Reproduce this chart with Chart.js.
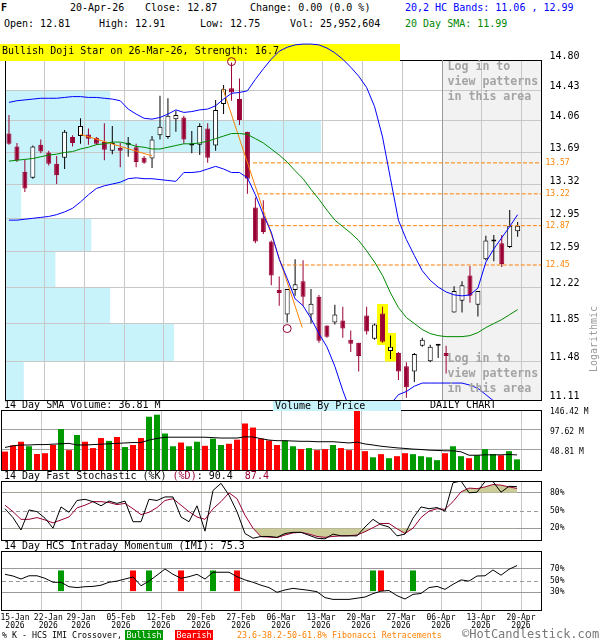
<!DOCTYPE html>
<html>
<head>
<meta charset="utf-8">
<script src="https://cdn.jsdelivr.net/npm/chart.js@4.4.1/dist/chart.umd.min.js"></script>
<style>
  html, body { margin: 0; padding: 0; background: #fff; }
  #wrap { position: relative; width: 600px; height: 640px; overflow: hidden;
          font-family: "DejaVu Sans Mono", monospace; font-size: 10px; color: #000; }
  canvas { position: absolute; left: 0; }
  .t { position: absolute; white-space: pre; line-height: 12px; }
  .s { font-size: 8.3px; line-height: 11px; }
</style>
</head>
<body>
<div id="wrap">
  <canvas id="main" width="600" height="365" style="top:40px"></canvas>
  <canvas id="vol" width="600" height="75" style="top:400px"></canvas>
  <canvas id="sto" width="600" height="75" style="top:470px"></canvas>
  <canvas id="imi" width="600" height="95" style="top:540px"></canvas>

  <div class="t" style="left:1px;top:2px;font-weight:bold">F</div>
  <div class="t" style="left:70px;top:2px">20-Apr-26</div>
  <div class="t" style="left:145px;top:2px">Close: 12.87</div>
  <div class="t" style="left:250px;top:2px">Change: 0.00 (0.0 %)</div>
  <div class="t" style="left:405px;top:2px;color:#0000ff">20,2 HC Bands: 11.06 , 12.99</div>
  <div class="t" style="left:4px;top:18px">Open: 12.81</div>
  <div class="t" style="left:99px;top:18px">High: 12.91</div>
  <div class="t" style="left:200px;top:18px">Low: 12.75</div>
  <div class="t" style="left:290px;top:18px">Vol: 25,952,604</div>
  <div class="t" style="left:405px;top:18px;color:#008800">20 Day SMA: 11.99</div>

  <div class="t" style="left:4px;top:399px">14 Day SMA Volume: 36.81 M</div>
  <div class="t" style="left:273px;top:401px;width:126px;height:10px;line-height:10px;padding-left:2px;background:#c9f3fb">Volume By Price</div>
  <div class="t" style="left:430px;top:399px">DAILY CHART</div>
  <div class="t" style="left:4px;top:470px">14 Day Fast Stochastic (%K) <span style="color:#990033">(%D)</span>: 90.4  <span style="color:#990033">87.4</span></div>
  <div class="t" style="left:4px;top:540px">14 Day HCS Intraday Momentum (IMI): 75.3</div>

  <div class="t s" style="left:2px;top:630px">% K - HCS IMI Crossover,</div>
  <div class="t s" style="left:125px;top:630px;width:38px;height:10px;line-height:10px;background:#009900;color:#fff;text-align:center">Bullish</div>
  <div class="t s" style="left:175px;top:630px;width:38px;height:10px;line-height:10px;background:#ff0000;color:#fff;text-align:center">Bearish</div>
  <div class="t s" style="left:237px;top:630px;color:#ff8000">23.6-38.2-50-61.8% Fibonacci Retracements</div>
  <div class="t" style="left:462px;top:628px;font-size:12px;line-height:13px;color:#777">©HotCandlestick.com</div>
</div>

<script>
// trading days, 15-Jan-2026 .. 20-Apr-2026
const dates = ['15-Jan','16-Jan','20-Jan','21-Jan','22-Jan','23-Jan','26-Jan','27-Jan','28-Jan','29-Jan','30-Jan',
  '02-Feb','03-Feb','04-Feb','05-Feb','06-Feb','09-Feb','10-Feb','11-Feb','12-Feb','13-Feb',
  '17-Feb','18-Feb','19-Feb','20-Feb','23-Feb','24-Feb','25-Feb','26-Feb','27-Feb',
  '02-Mar','03-Mar','04-Mar','05-Mar','06-Mar','09-Mar','10-Mar','11-Mar','12-Mar','13-Mar',
  '16-Mar','17-Mar','18-Mar','19-Mar','20-Mar','23-Mar','24-Mar','25-Mar','26-Mar','27-Mar',
  '30-Mar','31-Mar','01-Apr','02-Apr','06-Apr','07-Apr','08-Apr','09-Apr','10-Apr',
  '13-Apr','14-Apr','15-Apr','16-Apr','17-Apr','20-Apr'];

const opens = [13.91,13.76,13.47,13.40,13.78,13.69,13.56,13.63,13.87,13.88,
  13.90,13.86,13.81,13.71,13.74,13.78,13.75,13.63,13.62,13.89,
  13.87,14.08,14.10,13.77,13.78,13.97,13.77,14.26,14.45,14.32,
  13.93,13.07,12.95,12.70,12.19,11.94,12.19,12.28,11.94,12.12,
  11.83,11.86,11.88,11.69,11.66,11.93,11.70,11.95,11.58,11.56,
  11.43,11.38,11.63,11.48,11.63,11.56,11.96,12.08,12.34,12.04,
  12.51,12.70,12.68,12.64,12.81];
const highs = [14.13,13.80,13.61,13.77,13.84,13.71,13.65,13.95,13.89,14.09,
  13.97,13.87,14.03,14.00,13.80,13.87,13.79,13.65,13.88,14.36,
  14.33,14.18,14.12,13.94,14.03,14.03,14.31,14.49,14.77,14.57,
  13.93,13.18,13.15,12.71,12.33,12.20,12.51,12.50,12.20,12.14,
  11.83,12.04,12.02,11.78,11.66,12.02,11.85,12.02,11.73,11.57,
  11.47,11.56,11.71,11.64,11.64,11.63,12.23,12.28,12.44,12.18,
  12.76,12.77,12.77,13.04,12.91];
const lows = [13.78,13.58,13.24,13.39,13.68,13.54,13.33,13.50,13.76,13.79,
  13.78,13.78,13.60,13.67,13.52,13.64,13.52,13.56,13.51,13.84,
  13.85,13.93,13.79,13.68,13.66,13.57,13.71,14.14,14.30,14.01,
  13.22,12.68,12.78,12.24,12.03,11.86,12.13,12.03,11.85,11.66,
  11.71,11.84,11.71,11.57,11.38,11.74,11.69,11.66,11.50,11.30,
  11.13,11.28,11.62,11.47,11.51,11.36,11.96,11.96,12.06,11.92,
  12.50,12.49,12.43,12.63,12.75];
const closes = [13.79,13.60,13.28,13.76,13.70,13.56,13.43,13.93,13.80,14.00,
  13.85,13.79,13.72,13.80,13.71,13.80,13.58,13.57,13.84,13.99,
  14.12,14.13,13.84,13.78,14.00,13.63,14.19,14.44,14.40,14.07,
  13.39,12.70,12.80,12.34,12.16,12.20,12.25,12.12,12.05,11.68,
  11.72,11.94,11.80,11.65,11.53,11.77,11.84,11.67,11.62,11.38,
  11.23,11.55,11.69,11.62,11.635,11.53,12.18,12.24,12.13,12.18,
  12.71,12.71,12.46,12.87,12.87];

// 20,2 HC bands and 20 day SMA
const hcUpper = [14.28,14.30,14.31,14.32,14.33,14.33,14.33,14.34,14.35,14.35,
  14.34,14.34,14.33,14.32,14.30,14.20,14.14,14.09,14.08,14.10,
  14.14,14.19,14.16,14.17,14.19,14.20,14.24,14.32,14.39,14.40,
  14.42,14.56,14.69,14.81,14.91,14.96,14.99,15.00,15.00,14.99,
  14.95,14.89,14.81,14.71,14.60,14.46,14.23,13.87,13.39,12.93,
  12.72,12.55,12.39,12.29,12.22,12.17,12.14,12.13,12.14,12.21,
  12.48,12.62,12.74,12.86,12.99];
const hcLower = [12.93,12.93,12.94,12.95,12.96,12.97,12.99,13.02,13.06,13.13,
  13.21,13.28,13.31,13.33,13.35,13.39,13.40,13.39,13.39,13.38,
  13.37,13.36,13.46,13.46,13.47,13.50,13.53,13.50,13.46,13.46,
  13.40,13.21,12.99,12.80,12.51,12.31,12.10,12.03,11.90,11.75,
  11.62,11.43,11.20,11.00,10.90,10.85,10.90,10.97,11.07,11.16,
  11.19,11.24,11.27,11.27,11.27,11.27,11.27,11.27,11.25,11.22,
  11.16,11.10,11.08,11.07,11.06];
const sma20 = [13.59,13.60,13.61,13.62,13.64,13.66,13.67,13.69,13.70,13.73,
  13.75,13.78,13.79,13.81,13.81,13.79,13.76,13.75,13.73,13.73,
  13.75,13.77,13.79,13.79,13.80,13.82,13.85,13.88,13.91,13.91,
  13.90,13.85,13.80,13.73,13.66,13.58,13.48,13.39,13.27,13.16,
  13.04,12.93,12.86,12.79,12.71,12.60,12.48,12.34,12.16,12.01,
  11.91,11.85,11.79,11.75,11.73,11.72,11.72,11.72,11.73,11.76,
  11.81,11.85,11.89,11.94,11.99];

// volume, millions
const volumes = [45,60,69,58,39,41,61,100,48.5,85.5,
  69,53.5,78,71,80.6,56,61,78,130,135,
  89,58,67,58,69,59,76.5,61,64,74,
  113.5,103.6,76.5,72,61,71.6,58,51,53.5,48.5,
  51,61,53.5,48.5,150,46,31,38.7,28.8,33.7,
  41,38.7,33.7,31,24,41,58,33.7,28.8,36,
  51,38.7,36,46,25.95];
const volSma = [55,59,61,61,62,62,63,64,65,61,
  61,62,63,64,65,66,67,67,73,77,
  80,80,80,80,80,80,79,78,78,78,
  81,80.6,76.5,73,71.5,71.5,70.7,70,70,69,
  69,69,67.5,66,68,63.5,61,58,56,54,
  52.6,51,50,48.5,47.7,46.9,46.9,44.4,36,36,
  37,37,37,37.8,36.81];

// 14 day fast stochastic
const stochK = [53,38,17,51,48,37,20,56,47,67,
  69,65,58,66,62,66,31,31,69,67,
  73,73,39,31,58,15,84,96,76,48,
  11,3,6,6,4.5,11,13,13,8,3,
  2,10,7,7,7,22,35,26,22,7,
  10,37,56,53,55,49,97,100,80,81,
  99,99,81,91,90.4];
const stochD = [59,48,35,35,38,34,29,34,39,54.5,
  59,65,65,63.5,60,62,53,43,47,55,
  67,70,59,48,39,35,53,65,80,70,
  42,20,5.6,5,4,8.4,12,13,10,6,
  4.5,6,7,7.3,8.4,14,21,28,28,19,
  11,20,38,49,53,52,65,81.5,88,87,
  90,94,93,90,87.4];

// 14 day HCS intraday momentum
const imi = [60.5,57.6,52.5,58,58,53.7,47,47,39.5,38,
  39.5,40,42,47,49,52.5,56,41,49,59,
  69.5,60.5,53.7,56.5,60.5,52.5,64,64,64,56.5,
  51,47,42,38,30,34,36.7,35,33.3,31,
  21,18,18,18,20,22,27.7,32,33,24.3,
  18.6,26.5,28,38,40,35,43.5,51,49,57.6,
  58,67.8,59,69,75.3];
const bullishX = [7, 18, 26, 46, 51];
const bearishX = [16, 22, 29, 47];
const crossSpan = [32, 67];

// price axis, fibonacci, volume by price, markers
const priceTicks = [14.80,14.43,14.06,13.69,13.32,12.95,12.59,12.22,11.85,11.48,11.11];
const vbpShare = [0,19.6,58.9,22.4,3.0,16.1,9.4,19.6,31.5,3.5];
const fibLevels = [13.57, 13.22, 12.87, 12.45];
const fibStart = [30.7, 31.3, 32.7, 34.2];
const trendLines = [[[9, 13.90], [18, 13.65]], [[26.9, 14.45], [36.9, 11.81]]];
const swingMarks = [[28, 14.78], [35, 11.80]];
const patternBars = [47, 48];
const loginFrom = 54.5;

const volTicks = [48.81, 97.62, 146.42];
const stochTicks = [20, 50, 80];
const imiTicks = [30, 50, 70];
const gridPos = [4.5,9.5,14.5,19.5,24.5,29.5,34.5,39.5,44.5,49.5,54.5,59.5,64.5];
const tickLabels = ['15-Jan','22-Jan','29-Jan','05-Feb','12-Feb','20-Feb','27-Feb','06-Mar','13-Mar','20-Mar','27-Mar','06-Apr','13-Apr','20-Apr'];
const tickPos = [1.25,5.41,9.5,14.5,19.5,24.5,29.5,34.5,39.5,44.5,49.5,54.5,59.5,64.5];

const DARK_RED = '#990033';
const FONT = '"DejaVu Sans Mono", monospace';
Chart.defaults.font.family = FONT;
Chart.defaults.color = '#000';

const idx = dates.map((d, i) => i);
const isUp = closes.map((c, i) => c >= opens[i]);
const pts = arr => idx.map(i => ({ x: i, y: arr[i] }));

function xGrid() {
  return {
    type: 'linear', min: -0.5, max: 67, offset: false,
    grid: { color: '#c8c8c8', drawTicks: false, offset: false },
    border: { display: false },
    ticks: { display: false },
    afterBuildTicks: s => { s.ticks = gridPos.map(v => ({ value: v })); },
    afterFit: s => { s.height = 0; s.paddingLeft = 0; s.paddingRight = 0; }
  };
}

function yRight(ticks, opts) {
  return Object.assign({
    position: 'right',
    grid: { color: '#999999', drawTicks: false },
    border: { display: false },
    ticks: Object.assign({ autoSkip: false, padding: 9, font: { size: 8 } }, opts.ticks),
    afterBuildTicks: s => { s.ticks = ticks.map(v => ({ value: v })); },
    afterFit: s => { s.width = opts.width || 59; s.paddingTop = 0; s.paddingBottom = 0; }
  }, opts.extra);
}

function baseOptions(padding, scales) {
  return {
    responsive: false, animation: false, devicePixelRatio: 1, events: [],
    layout: { padding },
    plugins: { legend: { display: false }, tooltip: { enabled: false } },
    scales
  };
}

const framePlugin = {
  id: 'frame',
  beforeDatasetsDraw(chart) {
    const a = chart.chartArea, ctx = chart.ctx;
    const l = Math.floor(a.left) + 0.5, r = Math.floor(a.right) + 0.5;
    const t = Math.floor(a.top) + 0.5, b = Math.floor(a.bottom) + 0.5;
    ctx.save();
    ctx.strokeStyle = '#000';
    ctx.lineWidth = 1;
    ctx.strokeRect(l, t, r - l, b - t);
    ctx.restore();
  }
};

const midLine = {
  id: 'midLine',
  beforeDatasetsDraw(chart) {
    const { ctx, chartArea: a, scales: { y } } = chart;
    const py = Math.round(y.getPixelForValue(50)) + 0.5;
    ctx.save();
    ctx.strokeStyle = '#999';
    ctx.setLineDash([4, 3]);
    ctx.beginPath();
    ctx.moveTo(a.left + 1, py);
    ctx.lineTo(a.right, py);
    ctx.stroke();
    ctx.restore();
  }
};

const mainDecor = {
  id: 'mainDecor',
  beforeDraw(chart) {
    const { ctx, chartArea: a, scales: { x, y, xv } } = chart;
    ctx.save();
    ctx.fillStyle = '#c9f3fb';
    for (let k = 0; k < vbpShare.length; k++) {
      if (!vbpShare[k]) continue;
      const top = y.getPixelForValue(priceTicks[k]);
      const bot = y.getPixelForValue(priceTicks[k + 1]);
      ctx.fillRect(a.left, top, xv.getPixelForValue(vbpShare[k]) - a.left, bot - top);
    }
    const gx = Math.floor(x.getPixelForValue(loginFrom));
    ctx.fillStyle = '#f2f2f2';
    ctx.fillRect(gx, a.top, a.right - gx, a.bottom - a.top);
    ctx.restore();
  },
  beforeDatasetsDraw(chart) {
    const { ctx, chartArea: a, scales: { x } } = chart;
    const gx = Math.floor(x.getPixelForValue(loginFrom)) + 0.5;
    ctx.save();
    ctx.strokeStyle = '#999';
    ctx.beginPath();
    ctx.moveTo(gx, a.top);
    ctx.lineTo(gx, a.bottom);
    ctx.stroke();
    // pattern label bar
    ctx.fillStyle = '#ffff00';
    ctx.fillRect(0, 4, 400, 17);
    ctx.fillStyle = '#000';
    ctx.font = '10px ' + FONT;
    ctx.textBaseline = 'middle';
    ctx.fillText('Bullish Doji Star on 26-Mar-26, Strength: 16.7', 2, 11.5);
    ctx.restore();
  },
  afterDatasetsDraw(chart) {
    const { ctx, scales: { x } } = chart;
    const gx = Math.floor(x.getPixelForValue(loginFrom)) + 5.5;
    const lines = ['Log in to', 'view patterns', 'in this area'];
    ctx.save();
    ctx.fillStyle = '#a4a4a4';
    ctx.font = 'bold 11.6px ' + FONT;
    ctx.textBaseline = 'middle';
    lines.forEach((s, k) => {
      ctx.fillText(s, gx, 27 + 15 * k);
      ctx.fillText(s, gx, 319 + 15 * k);
    });
    ctx.restore();
  },
  afterDraw(chart) {
    const { ctx, chartArea: a, scales: { y } } = chart;
    ctx.save();
    ctx.font = '8px ' + FONT;
    ctx.fillStyle = '#ff8000';
    ctx.textBaseline = 'middle';
    fibLevels.forEach(lv => ctx.fillText(lv.toFixed(2), a.right + 4, y.getPixelForValue(lv)));
    ctx.translate(594, 299);
    ctx.rotate(-Math.PI / 2);
    ctx.font = '10px ' + FONT;
    ctx.fillStyle = '#999';
    ctx.textAlign = 'center';
    ctx.fillText('Logarithmic', 0, 0);
    ctx.restore();
  }
};

// price chart
new Chart(document.getElementById('main'), {
  type: 'bar',
  data: {
    datasets: [
      { type: 'line', data: pts(hcUpper), borderColor: '#0000ff', borderWidth: 1, pointRadius: 0, clip: false, order: 1 },
      { type: 'line', data: pts(hcLower), borderColor: '#0000ff', borderWidth: 1, pointRadius: 0, order: 1 },
      { type: 'line', data: pts(sma20), borderColor: '#008800', borderWidth: 1, pointRadius: 0, order: 1 },
      ...fibLevels.map((lv, k) => ({
        type: 'line', data: [{ x: fibStart[k], y: lv }, { x: 67, y: lv }],
        borderColor: '#ff8000', borderWidth: 1, borderDash: [4, 2], pointRadius: 0, order: 2
      })),
      ...trendLines.map(t => ({
        type: 'line', data: t.map(p => ({ x: p[0], y: p[1] })),
        borderColor: '#ff8000', borderWidth: 1, pointRadius: 0, order: 2
      })),
      { type: 'line', showLine: false, data: swingMarks.map(p => ({ x: p[0], y: p[1] })),
        pointRadius: 4, pointBorderColor: DARK_RED, pointBackgroundColor: 'rgba(0,0,0,0)',
        pointBorderWidth: 1, clip: false, order: 0 },
      { data: idx.map(i => ({ x: i, y: [opens[i], closes[i]] })),
        backgroundColor: idx.map(i => isUp[i] ? '#ffffff' : DARK_RED),
        borderColor: idx.map(i => isUp[i] ? '#000000' : DARK_RED),
        borderWidth: 1, borderSkipped: false, barThickness: 5, minBarLength: 2,
        grouped: false, inflateAmount: 0, order: 4 },
      { data: idx.map(i => ({ x: i, y: [lows[i], highs[i]] })),
        backgroundColor: idx.map(i => isUp[i] ? '#000000' : DARK_RED),
        barThickness: 1, grouped: false, inflateAmount: 0, order: 5 },
      { data: patternBars.map(i => ({ x: i, y: [lows[i] * 0.998, highs[i] * 1.0022] })),
        backgroundColor: '#ffff00', barThickness: 11, grouped: false, inflateAmount: 0, order: 6 }
    ]
  },
  options: baseOptions({ left: 1.5, right: 0, top: 20, bottom: 5 }, {
    x: xGrid(),
    xv: {
      type: 'linear', position: 'top', min: 0, max: 100, offset: false,
      grid: { display: false }, border: { display: false }, ticks: { display: false },
      afterFit: s => { s.height = 0; s.paddingLeft = 0; s.paddingRight = 0; }
    },
    y: yRight(priceTicks, {
      width: 58.5,
      ticks: { padding: 8, labelOffset: -4, font: { size: 10 }, callback: v => v.toFixed(2) },
      extra: { type: 'logarithmic', min: 11.11, max: 14.80, grid: { color: '#c8c8c8', drawTicks: false } }
    })
  }),
  plugins: [framePlugin, mainDecor]
});

// volume chart
new Chart(document.getElementById('vol'), {
  type: 'bar',
  data: {
    datasets: [
      { type: 'line', data: pts(volSma), borderColor: '#000', borderWidth: 1, pointRadius: 0, order: 1 },
      { data: pts(volumes), backgroundColor: idx.map(i => isUp[i] ? '#009900' : '#ff0000'),
        barThickness: 6, grouped: false, inflateAmount: 0, order: 2 }
    ]
  },
  options: baseOptions({ left: 1, right: 0, top: 10, bottom: 5 }, {
    x: xGrid(),
    y: yRight(volTicks, {
      ticks: { labelOffset: 2, callback: v => v.toFixed(2) + ' M' },
      extra: { min: 0, max: 146.42, grid: { color: '#a0a0a0', drawTicks: false } }
    })
  }),
  plugins: [framePlugin]
});

// stochastic chart
const hide = 'rgba(0,0,0,0)';
new Chart(document.getElementById('sto'), {
  type: 'line',
  data: {
    datasets: [
      { data: pts(stochD), borderColor: hide, pointRadius: 0, fill: { target: { value: 20 }, above: hide, below: '#cccc99' }, order: 5 },
      { data: pts(stochD), borderColor: hide, pointRadius: 0, fill: { target: { value: 80 }, above: '#cccc99', below: hide }, order: 5 },
      { data: pts(stochD), borderColor: DARK_RED, borderWidth: 1, pointRadius: 0, order: 2 },
      { data: pts(stochK), borderColor: '#000', borderWidth: 1, pointRadius: 0, order: 1 }
    ]
  },
  options: baseOptions({ left: 1, right: 0, top: 11, bottom: 5 }, {
    x: xGrid(),
    y: yRight(stochTicks, {
      ticks: { callback: v => v + '%' },
      extra: { min: 0, max: 100, grid: { color: c => c.tick && c.tick.value === 50 ? hide : '#999999', drawTicks: false } }
    })
  }),
  plugins: [framePlugin, midLine]
});

// intraday momentum chart
new Chart(document.getElementById('imi'), {
  type: 'bar',
  data: {
    datasets: [
      { type: 'line', data: pts(imi), borderColor: '#000', borderWidth: 1, pointRadius: 0, order: 1 },
      { data: bullishX.map(i => ({ x: i, y: crossSpan })), backgroundColor: '#009900', barThickness: 6, grouped: false, inflateAmount: 0, order: 2 },
      { data: bearishX.map(i => ({ x: i, y: crossSpan })), backgroundColor: '#ff0000', barThickness: 6, grouped: false, inflateAmount: 0, order: 2 }
    ]
  },
  options: baseOptions({ left: 1, right: 0, top: 11, bottom: 0 }, {
    x: xGrid(),
    xl: {
      type: 'linear', min: -0.5, max: 67, offset: false, position: 'bottom',
      grid: { display: false, offset: false }, border: { display: false },
      ticks: { autoSkip: false, maxRotation: 0, padding: -4.5, font: { size: 8, lineHeight: 1.05 },
               callback: (v, i) => [tickLabels[i], '2026'] },
      afterBuildTicks: s => { s.ticks = tickPos.map(v => ({ value: v })); },
      afterFit: s => { s.height = 25; s.paddingLeft = 0; s.paddingRight = 0; }
    },
    y: yRight(imiTicks, {
      ticks: { callback: v => v + '%' },
      extra: { min: 0, max: 100, grid: { color: c => c.tick && c.tick.value === 50 ? hide : '#999999', drawTicks: false } }
    })
  }),
  plugins: [framePlugin, midLine]
});
</script>
</body>
</html>
